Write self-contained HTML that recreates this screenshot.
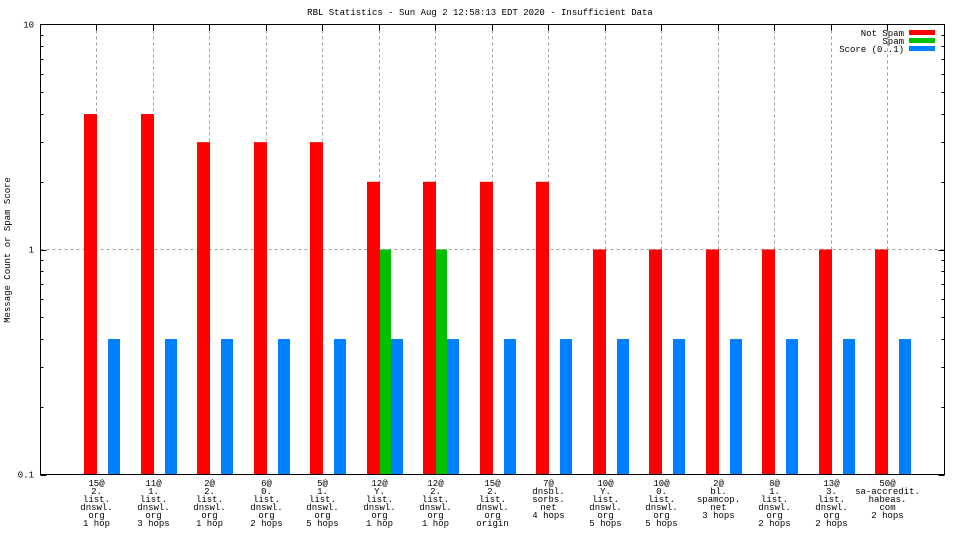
<!DOCTYPE html>
<html><head><meta charset="utf-8"><style>
body{margin:0;background:#fff}
svg text{font-family:"Liberation Mono","DejaVu Sans Mono",monospace;font-size:9px;fill:#000}
</style></head><body>
<svg id="c" width="960" height="540" xmlns="http://www.w3.org/2000/svg"></svg>
<script>
const categories=[
["15@","2.","list.","dnswl.","org","1 hop"],
["11@","1.","list.","dnswl.","org","3 hops"],
["2@","2.","list.","dnswl.","org","1 hop"],
["6@","0.","list.","dnswl.","org","2 hops"],
["5@","1.","list.","dnswl.","org","5 hops"],
["12@","Y.","list.","dnswl.","org","1 hop"],
["12@","2.","list.","dnswl.","org","1 hop"],
["15@","2.","list.","dnswl.","org","origin"],
["7@","dnsbl.","sorbs.","net","4 hops"],
["10@","Y.","list.","dnswl.","org","5 hops"],
["10@","0.","list.","dnswl.","org","5 hops"],
["2@","bl.","spamcop.","net","3 hops"],
["8@","1.","list.","dnswl.","org","2 hops"],
["13@","3.","list.","dnswl.","org","2 hops"],
["50@","sa-accredit.","habeas.","com","2 hops"]];
const notSpam=[4,4,3,3,3,2,2,2,2,1,1,1,1,1,1];
const spam=[0,0,0,0,0,1,1,0,0,0,0,0,0,0,0];
const score=[0.4,0.4,0.4,0.4,0.4,0.4,0.4,0.4,0.4,0.4,0.4,0.4,0.4,0.4,0.4];
const yTicks=[0.1,1,10];
const yTickLabels=["0.1","1","10"];

const svg=document.getElementById('c');
const NS='http://www.w3.org/2000/svg';
const L=40.5,R=944.5,T=24.5,B=474.5;
const yMin=0.1,yMax=10;
function y(v){return B-(Math.log10(v)-Math.log10(yMin))/(Math.log10(yMax)-Math.log10(yMin))*(B-T);}
const step=(R-L)/(categories.length+1);
function xg(i){return Math.round(L+(i+1)*step)-0.5;}
function mk(tag,attrs,name,txt){const e=document.createElementNS(NS,tag);for(const k in attrs)e.setAttribute(k,attrs[k]);


if(txt!==undefined)e.textContent=txt;svg.appendChild(e);return e;}

mk('text',{x:480,y:15,'text-anchor':'middle'},'chart-title','RBL Statistics - Sun Aug  2 12:58:13 EDT 2020 - Insufficient Data');
mk('text',{x:10,y:250,'text-anchor':'middle',transform:'rotate(-90 10 250)'},'y-axis-title','Message Count or Spam Score');

yTicks.forEach((t,k)=>{
 if(t>yMin&&t<yMax)mk('line',{x1:L,x2:R,y1:y(t),y2:y(t),stroke:'#a0a0a0','stroke-dasharray':'3,3'},'y-gridline');
 mk('text',{x:34,y:y(t)+3,'text-anchor':'end'},'y-tick-label',yTickLabels[k]);
});
for(let d=-1;d<1;d++)for(let m=1;m<10;m++){const v=m*Math.pow(10,d);const len=m===1?6:3;const yy=Math.round(y(v))+0.5;
 mk('line',{x1:L,x2:L+len,y1:yy,y2:yy,stroke:'#000'},'y-tick');mk('line',{x1:R,x2:R-len,y1:yy,y2:yy,stroke:'#000'},'y-tick');}
categories.forEach((c,i)=>{
 const x=xg(i);
 mk('line',{x1:x,x2:x,y1:T,y2:B,stroke:'#a0a0a0','stroke-dasharray':'3,3'},'x-gridline');
 mk('line',{x1:x,x2:x,y1:B,y2:B-6,stroke:'#000'},'x-tick');
 mk('line',{x1:x,x2:x,y1:T,y2:T+6,stroke:'#000'},'x-tick');
 c.forEach((s,j)=>mk('text',{x:x,y:486+j*8,'text-anchor':'middle'},'x-tick-label',s));
});
categories.forEach((c,i)=>{
 const g=xg(i)+0.5;
 const series=[[notSpam,'#ff0000','bar-not-spam',-13,13],[spam,'#00c000','bar-spam',0,11],[score,'#0080ff','bar-score',11,12]];
 series.forEach(([arr,col,name,off,w])=>{const v=arr[i];if(v>yMin){const yy=y(v);
  mk('rect',{x:g+off,y:yy,width:w,height:B-yy,fill:col},name);}});
});
[["Not Spam","#ff0000"],["Spam","#00c000"],["Score (0..1)","#0080ff"]].forEach((l,k)=>{
 mk('text',{x:904,y:36+k*8,'text-anchor':'end'},'legend-label',l[0]);
 mk('rect',{x:909,y:30+k*8,width:26,height:5,fill:l[1]},'legend-swatch');
});
mk('rect',{x:L,y:T,width:R-L,height:B-T,fill:'none',stroke:'#000'},'plot-frame');
</script>
</body></html>
